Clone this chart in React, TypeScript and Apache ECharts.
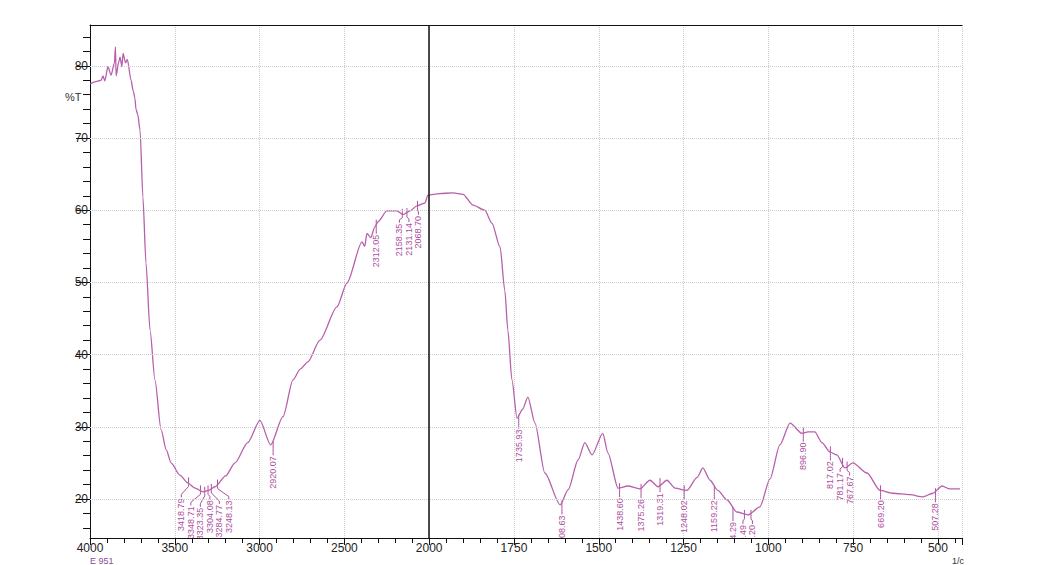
import React, { useEffect, useRef } from "react";
import * as echarts from "echarts";

// Spectrum trace (wavenumber cm-1, %T)
const wavenumbers = [
  3998, 3965, 3935, 3923, 3913, 3894, 3876, 3856, 3850, 3846, 3830, 3823, 3812, 3805, 3790, 3780,
  3758, 3745, 3735, 3729, 3718, 3705, 3688, 3670, 3646, 3617, 3581, 3550, 3522, 3470, 3422, 3380,
  3334, 3300, 3263, 3200, 3145, 3070, 2998, 2935, 2862, 2803, 2760, 2715, 2644, 2544, 2485, 2396,
  2380, 2367, 2345, 2320, 2302, 2249, 2190, 2154, 2113, 2072, 2025, 2007, 1970, 1930, 1900, 1871,
  1836, 1815, 1791, 1777, 1768, 1756, 1741, 1725, 1709, 1688, 1659, 1614, 1590, 1561, 1541, 1520,
  1488, 1473, 1443, 1414, 1379, 1349, 1325, 1299, 1275, 1240, 1210, 1193, 1172, 1149, 1122, 1093,
  1060, 1025, 995, 966, 936, 901, 883, 863, 842, 818, 798, 774, 751, 709, 671, 633, 583, 544, 515,
  488, 465, 435,
];
const transmittance = [
  77.5, 77.8, 78.0, 78.6, 77.9, 79.9, 78.7, 80.4, 82.6, 78.6, 80.6, 81.2, 79.9, 81.7, 80.4, 80.9,
  78.0, 76.5, 75.5, 74.0, 73.2, 71.1, 61.8, 52.7, 43.4, 36.5, 29.6, 26.8, 25.0, 23.3, 22.2, 21.5,
  21.0, 21.2, 21.7, 23.2, 25.0, 27.8, 30.9, 27.5, 31.4, 36.5, 38.0, 39.0, 42.0, 46.6, 49.9, 55.6,
  55.0, 56.8, 56.2, 57.7, 58.4, 59.9, 59.9, 59.4, 59.9, 60.6, 61.0, 62.1, 62.3, 62.4, 62.2, 60.7,
  60.0, 58.2, 54.9, 48.9, 43.4, 36.5, 31.2, 32.4, 34.1, 30.5, 23.6, 19.2, 21.3, 25.4, 27.8, 26.1,
  29.1, 26.4, 21.5, 21.8, 21.4, 22.6, 21.7, 22.6, 21.5, 21.2, 23.0, 24.3, 22.6, 21.2, 19.9, 18.2,
  17.8, 18.9, 22.8, 27.5, 30.5, 29.1, 29.3, 29.3, 27.8, 26.5, 26.1, 24.3, 25.0, 23.6, 21.2, 20.8, 20.6, 20.3, 20.8,
  21.8, 21.4, 21.4,
];

// Peak annotations
const peakLabels = [
  "3418.79", "3348.71", "3323.35", "3304.08", "3284.77", "3248.13", "2920.07", "2312.05",
  "2158.35", "2131.14", "2068.70", "1735.93", "1608.63", "1438.60", "1375.26", "1319.31",
  "1248.02", "1159.22", "1104.29", "1070.49", "1051.20", "896.90", "817.02", "781.17",
  "767.67", "669.20", "507.28",
];
const peakTransmittance = [
  22.3, 21.2, 21.0, 21.2, 21.4, 22.0, 27.3, 58.0,
  59.5, 59.6, 60.6, 31.0, 19.1, 21.5, 21.4, 22.2,
  21.2, 21.2, 18.2, 17.8, 17.8, 29.2, 26.6, 25.0,
  24.5, 21.2, 20.8,
];

const xTickWavenumbers = [4000, 3500, 3000, 2500, 2000, 1750, 1500, 1250, 1000, 750, 500];
const yMajorTicks = [20, 30, 40, 50, 60, 70, 80];
const yMinorTicks = [16, 18, 22, 24, 26, 28, 32, 34, 36, 38, 42, 44, 46, 48, 52, 54, 56, 58, 62, 64, 66, 68, 72, 74, 76, 78, 82, 84];

const LINE_COLOR = "#b85fab";
const LABEL_COLOR = "#ad4e9e";
const GRID_COLOR = "#cdcdcd";
const FONT = "Liberation Sans, Arial, sans-serif";

function toU(w: number) {
  return w >= 2000 ? (4000 - w) / 2 : 1000 + (2000 - w);
}
function fromU(u: number) {
  return u <= 1000 ? 4000 - 2 * u : 2000 - (u - 1000);
}

// spread overlapping labels (in axis units)
function spreadLabels(us: number[], spacing: number) {
  let clusters = us.map((u, i) => ({ idx: [i], center: u }));
  let changed = true;
  while (changed) {
    changed = false;
    for (let i = 0; i < clusters.length - 1; i++) {
      const a = clusters[i];
      const b = clusters[i + 1];
      const aLast = a.center + ((a.idx.length - 1) * spacing) / 2;
      const bFirst = b.center - ((b.idx.length - 1) * spacing) / 2;
      if (aLast + spacing > bFirst) {
        const idx = a.idx.concat(b.idx);
        const center = idx.reduce((s, k) => s + us[k], 0) / idx.length;
        clusters.splice(i, 2, { idx, center });
        changed = true;
        break;
      }
    }
  }
  const out: number[] = new Array(us.length);
  clusters.forEach((c) => {
    c.idx.forEach((k, j) => {
      out[k] = c.center - ((c.idx.length - 1) * spacing) / 2 + j * spacing;
    });
  });
  return out;
}

export default function App() {
  const ref = useRef<HTMLDivElement>(null);

  useEffect(() => {
    if (!ref.current) return;
    const chart = echarts.init(ref.current, undefined, { renderer: "svg" });

    const X_MAX = 2571;
    const lineData = wavenumbers.map((w, i) => [toU(w), transmittance[i]]);

    const peakU = peakLabels.map((l) => toU(parseFloat(l)));
    const order = peakU.map((u, i) => i).sort((a, b) => peakU[a] - peakU[b]);
    const sortedU = order.map((i) => peakU[i]);
    const spreadSorted = spreadLabels(sortedU, 28);
    const labelU: number[] = new Array(peakU.length);
    order.forEach((i, j) => (labelU[i] = spreadSorted[j]));
    const peakData = peakLabels.map((l, i) => [peakU[i], peakTransmittance[i], labelU[i]]);

    chart.setOption({
      animation: false,
      backgroundColor: "#ffffff",
      grid: { left: 90, top: 25, right: 97, bottom: 27, containLabel: false },
      xAxis: [
        {
          type: "value",
          min: 0,
          max: X_MAX,
          interval: 250,
          position: "bottom",
          axisLine: { show: true, lineStyle: { color: "#111", width: 1 } },
          axisTick: { show: true, length: 7, inside: false, lineStyle: { color: "#111" } },
          minorTick: { show: true, splitNumber: 5, length: 5, lineStyle: { color: "#111" } },
          axisLabel: {
            color: "#222",
            fontSize: 12,
            fontFamily: FONT,
            margin: 4,
            showMaxLabel: false,
            formatter: (v: number) => {
              const w = Math.round(fromU(v));
              return xTickWavenumbers.indexOf(w) >= 0 ? String(w) : "";
            },
          },
          splitLine: { show: true, lineStyle: { type: "dotted", color: GRID_COLOR, width: 1 } },
        },
        {
          type: "value",
          min: 0,
          max: X_MAX,
          position: "top",
          axisLine: { show: true, lineStyle: { color: "#111", width: 1 } },
          axisTick: { show: false },
          axisLabel: { show: false },
          splitLine: { show: false },
        },
      ],
      yAxis: [
        {
          type: "value",
          min: 14.6,
          max: 85.65,
          position: "left",
          axisLine: { show: true, lineStyle: { color: "#111", width: 1 } },
          axisTick: { show: true, length: 14, customValues: yMajorTicks, lineStyle: { color: "#111" } },
          axisLabel: {
            customValues: yMajorTicks,
            color: "#222",
            fontSize: 12,
            fontFamily: FONT,
            margin: 2,
          },
          splitLine: { show: false },
        },
        {
          type: "value",
          min: 14.6,
          max: 85.65,
          position: "left",
          axisLine: { show: false },
          axisTick: { show: true, length: 7, customValues: yMinorTicks, lineStyle: { color: "#111" } },
          axisLabel: { show: false },
          splitLine: { show: false },
        },
      ],
      graphic: [
        { type: "text", left: 65, top: 91, style: { text: "%T", fill: "#333333", font: `11px ${FONT}` } },
        { type: "text", left: 90, top: 556, style: { text: "E 951", fill: "#8a4d9a", font: `9px ${FONT}` } },
        { type: "text", left: 952, top: 556, style: { text: "1/c", fill: "#333333", font: `9px ${FONT}` } },
      ],
      series: [
        {
          type: "line",
          data: lineData,
          xAxisIndex: 0,
          yAxisIndex: 0,
          showSymbol: false,
          smooth: 0.25,
          smoothMonotone: "x",
          lineStyle: { color: LINE_COLOR, width: 1.3 },
          silent: true,
          markLine: {
            silent: true,
            symbol: "none",
            label: { show: false },
            data: [
              ...yMajorTicks.map((v) => ({
                yAxis: v,
                lineStyle: { type: "dotted", color: GRID_COLOR, width: 1 },
              })),
              { xAxis: toU(2000), lineStyle: { type: "solid", color: "#111", width: 1.5 } },
            ],
          },
        },
        {
          type: "custom",
          xAxisIndex: 0,
          yAxisIndex: 0,
          clip: true,
          silent: true,
          data: peakData,
          renderItem: (params: any, api: any) => {
            const u = api.value(0);
            const t = api.value(1);
            const lu = api.value(2);
            const p = api.coord([u, t]);
            const lp = api.coord([lu, t]);
            const shifted = Math.abs(lp[0] - p[0]) > 3;
            const gap = shifted ? 15 : 9;
            const ty = p[1] + gap;
            return {
              type: "group",
              children: [
                {
                  type: "line",
                  shape: { x1: p[0], y1: p[1] - 5, x2: p[0], y2: p[1] + 2 },
                  style: { stroke: LABEL_COLOR, lineWidth: 1 },
                },
                {
                  type: "polyline",
                  shape: {
                    points: [
                      [p[0], p[1] + 2],
                      [p[0], p[1] + 4],
                      [lp[0], ty - 3],
                      [lp[0], ty],
                    ],
                  },
                  style: { stroke: LABEL_COLOR, fill: "none", lineWidth: 1 },
                },
                {
                  type: "text",
                  x: lp[0],
                  y: ty + 1,
                  rotation: Math.PI / 2,
                  style: {
                    text: peakLabels[params.dataIndex],
                    fill: LABEL_COLOR,
                    font: `9px ${FONT}`,
                    align: "right",
                    verticalAlign: "middle",
                  },
                },
              ],
            };
          },
        },
      ],
    });

    return () => chart.dispose();
  }, []);

  return (
    <div
      ref={ref}
      style={{ position: "fixed", left: 0, top: 0, width: 1059, height: 565, background: "#fff" }}
    />
  );
}
